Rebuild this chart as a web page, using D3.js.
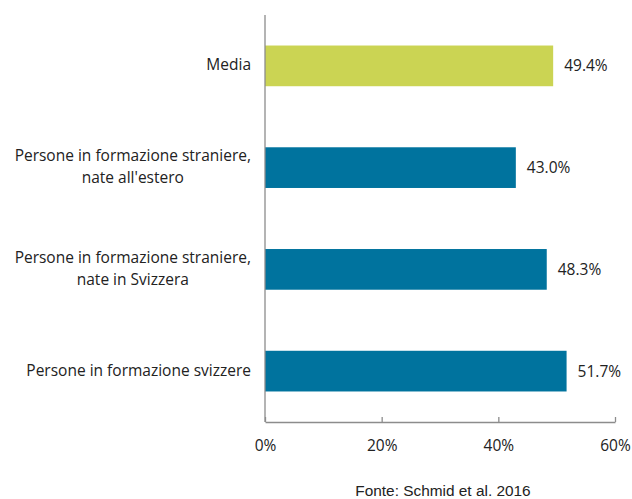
<!DOCTYPE html>
<html><head><meta charset="utf-8">
<script src="https://cdn.jsdelivr.net/npm/d3@7"></script>
<style>body{margin:0;background:#fff}svg{display:block}</style>
</head><body><svg id="c" width="632" height="499"></svg>
<script>
const categories = [["Media"],["Persone in formazione straniere,","nate all'estero"],["Persone in formazione straniere,","nate in Svizzera"],["Persone in formazione svizzere"]];
const values = [49.4, 43.0, 48.3, 51.7];
const barColors = ["#CBD453","#00739E","#00739E","#00739E"];
const tickValues = [0,20,40,60];

const svg = d3.select("#c");
const x = d3.scaleLinear().domain([0,60]).range([265,615]);
const y = d3.scaleBand().domain(d3.range(categories.length)).range([15,422]).paddingInner(0.6).paddingOuter(0.3);
const labelFont = "'Open Sans', sans-serif";
const fs = 15.5;

svg.selectAll("rect.bar").data(values).join("rect").attr("class","bar")
  .attr("x", x(0)).attr("y",(d,i)=>y(i)).attr("width",d=>x(d)-x(0)).attr("height",y.bandwidth())
  .attr("fill",(d,i)=>barColors[i]);

svg.selectAll("text.val").data(values).join("text").attr("class","val")
  .attr("x",d=>x(d)+11).attr("y",(d,i)=>y(i)+y.bandwidth()/2).attr("dy","0.35em")
  .attr("font-family",labelFont).attr("font-size",fs).attr("fill","#222")
  .text(d=>d.toFixed(1)+"%");

categories.forEach((lines,i)=>{
  const cy = y(i)+y.bandwidth()/2 - 1;
  const g = svg.append("text").attr("font-family",labelFont).attr("font-size",fs).attr("fill","#222");
  const tmp = lines.map(l=>{const t=svg.append("text").attr("font-family",labelFont).attr("font-size",fs).text(l);const w=t.node().getComputedTextLength();t.remove();return w;});
  const maxW = d3.max(tmp);
  const cx = 251 - maxW/2;
  lines.forEach((l,j)=>{
    g.append("tspan").attr("x",cx).attr("text-anchor","middle")
     .attr("y", cy + (j-(lines.length-1)/2)*22).attr("dy","0.35em").text(l);
  });
});

const ax = d3.axisBottom(x).tickValues(tickValues).tickFormat(d=>d+"%").tickSizeInner(-5).tickSizeOuter(0).tickPadding(18);
const axg = svg.append("g").attr("transform","translate(0,422)").call(ax);
axg.select(".domain").attr("stroke","#8c8c8c").attr("stroke-width",1.3);
axg.selectAll(".tick line").attr("stroke","#8c8c8c").attr("stroke-width",1.3);
axg.selectAll(".tick text").attr("font-family",labelFont).attr("font-size",fs).attr("fill","#222");
svg.append("line").attr("x1",x(0)).attr("x2",x(0)).attr("y1",15).attr("y2",422).attr("stroke","#8c8c8c").attr("stroke-width",1.3);

svg.append("text").attr("x",443).attr("y",491).attr("dy","0.35em").attr("text-anchor","middle")
  .attr("font-family","'Liberation Sans', Arial, sans-serif").attr("font-size",15.4).attr("fill","#222")
  .text("Fonte: Schmid et al. 2016");
</script></body></html>
